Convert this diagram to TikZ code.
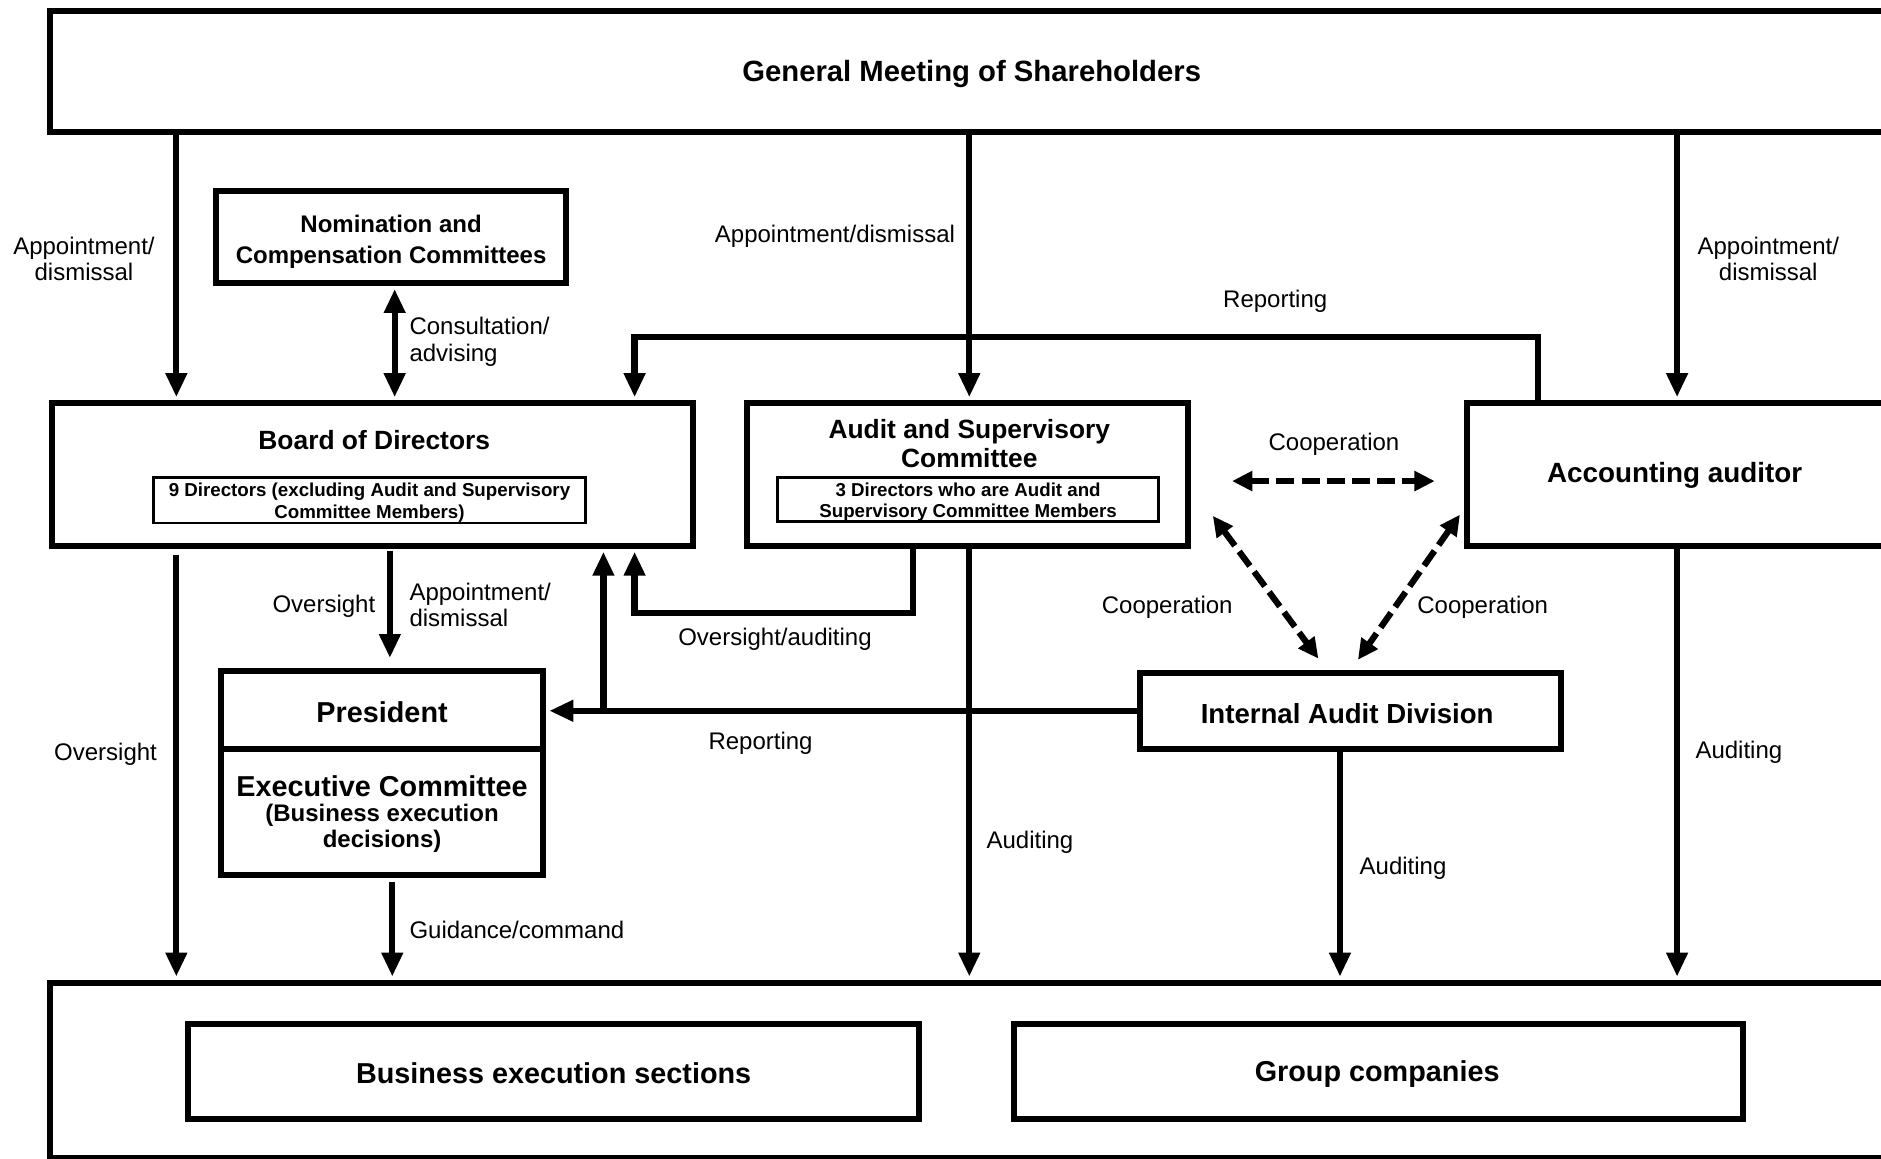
\documentclass[tikz,border=0pt]{standalone}
\usepackage{fontspec}
\setmainfont{Liberation Sans}
\usetikzlibrary{arrows.meta}
\begin{document}
\begin{tikzpicture}[x=0.5pt,y=-0.5pt,
  box/.style={draw, line width=2.5pt, inner sep=0pt},
  inbox/.style={draw, line width=1.2pt, inner sep=0pt},
  txt/.style={inner sep=0pt, align=center, yshift=-1pt},
  intxt/.style={txt, font=\bfseries\fontsize{7.8}{9}\selectfont},
  lab/.style={txt, font=\fontsize{10}{11}\selectfont},
  labl/.style={lab, anchor=west, align=left},
  tip/.tip={Triangle[width=8.5pt,length=10pt]},
  dtip/.tip={Triangle[width=8pt,length=8.5pt]},
  arr/.style={line width=2.6pt, shorten >=1.2pt, -tip},
  darrs/.style={line width=2.6pt, shorten >=1.2pt, shorten <=1.2pt, tip-tip},
  darr/.style={line width=2.6pt, dash pattern=on 7.5pt off 3pt, dtip-dtip}
]
\useasboundingbox (0,0) rectangle (1568,966);
\clip (0,0) rectangle (1568,966);
\fill[white] (0,0) rectangle (1568,966);

% boxes
\node[box, minimum width=768pt, minimum height=50.5pt] (gm) at (810,59.5) {};
\node[txt, font=\bfseries\fontsize{12.2}{14}\selectfont] (gmt) at (810,59.5) {General Meeting of Shareholders};
\node[box, minimum width=768pt, minimum height=73pt] (bot) at (810,892) {};
\node[box, minimum width=146pt, minimum height=38.5pt] (nom) at (326,197.5) {};
\node[txt, font=\bfseries\fontsize{10}{13}\selectfont] (nomt) at (326,199.5) {Nomination and\\Compensation Committees};
\node[box, minimum width=267.5pt, minimum height=59.5pt] (bod) at (310.5,395.5) {};
\node[txt, font=\bfseries\fontsize{11}{13}\selectfont] (bodt) at (312,365) {Board of Directors};
\node[inbox, minimum width=180pt, minimum height=19pt] (bodi) at (308,417) {};
\node[intxt] (bodit) at (308,417) {9 Directors (excluding Audit and Supervisory\\Committee Members)};
\node[box, minimum width=183.5pt, minimum height=59.5pt] (asc) at (806.5,395.5) {};
\node[txt, font=\bfseries\fontsize{11}{12}\selectfont] (asct) at (808,368) {Audit and Supervisory\\Committee};
\node[inbox, minimum width=159pt, minimum height=18.5pt] (asci) at (807,416.5) {};
\node[intxt] (ascit) at (807,416.5) {3 Directors who are Audit and\\Supervisory Committee Members};
\node[box, minimum width=177.5pt, minimum height=59.5pt] (acc) at (1400.5,395.5) {};
\node[txt, font=\bfseries\fontsize{11.6}{13}\selectfont] (acct) at (1396,394) {Accounting auditor};
\node[box, minimum width=134.5pt, minimum height=32.5pt] (pres) at (318.5,591.5) {};
\node[txt, font=\bfseries\fontsize{12}{14}\selectfont] (prest) at (318.5,591.5) {President};
\node[box, minimum width=134.5pt, minimum height=52.5pt] (exec) at (318.5,676.5) {};
\node[txt, font=\bfseries\fontsize{10}{10.5}\selectfont] (exect) at (318.5,676.5) {{\fontsize{12}{14}\selectfont Executive Committee}\\(Business execution\\decisions)};
\node[box, minimum width=175.5pt, minimum height=31.5pt] (iad) at (1125.5,592.5) {};
\node[txt, font=\bfseries\fontsize{11.5}{13}\selectfont] (iadt) at (1123,592.5) {Internal Audit Division};
\node[box, minimum width=304.5pt, minimum height=39.5pt] (bes) at (461.5,893.5) {};
\node[txt, font=\bfseries\fontsize{12}{14}\selectfont] (best) at (461.5,892.5) {Business execution sections};
\node[box, minimum width=304pt, minimum height=39.5pt] (gc) at (1149,893.5) {};
\node[txt, font=\bfseries\fontsize{12}{14}\selectfont] (gct) at (1148,893.5) {Group companies};

% connectors
\draw[arr] (gm.south -| 147,0) -- (bod.north -| 147,0);
\draw[arr] (gm.south -| 808,0) -- (asc.north -| 808,0);
\draw[arr] (gm.south -| 1398,0) -- (acc.north -| 1398,0);
\draw[darrs] (nom.south -| 329,0) -- (bod.north -| 329,0);
\draw[arr] (acc.north -| 1282,0) -- (1282,281) -| (bod.north -| 529,0);

\coordinate (c1) at (1027,401);
\coordinate (c2) at (1196,401);
\coordinate (c3) at (1011,430);
\coordinate (c4) at (1099,549);
\coordinate (c5) at (1217,429);
\coordinate (c6) at (1132,550);
\draw[darr] (c1) -- (c2);
\draw[darr] (c3) -- (c4);
\draw[darr] (c5) -- (c6);

\draw[arr, shorten <=2.5pt] (bod.south -| 147,0) -- (bot.north -| 147,0);
\draw[arr, shorten <=1pt, shorten >=4pt] (bod.south -| 325,0) -- (pres.north -| 325,0);
\coordinate (rj) at (iad.west -| 503,0);
\draw[arr] (iad.west) -- (iad.west -| pres.east);
\draw[arr] (rj) -- (bod.south -| 503,0);
\draw[arr] (asc.south -| 761,0) -- (761,511) -| (bod.south -| 529,0);
\draw[arr] (asc.south -| 808,0) -- (bot.north -| 808,0);
\draw[arr] (iad.south -| 1117,0) -- (bot.north -| 1117,0);
\draw[arr] (acc.south -| 1398,0) -- (bot.north -| 1398,0);
\draw[arr, shorten <=2pt] (exec.south -| 327,0) -- (bot.north -| 327,0);

% labels
\node[lab] (l1) at (70,214) {Appointment/\\dismissal};
\node[lab] (l2) at (696,195) {Appointment/dismissal};
\node[lab] (l3) at (1474,214) {Appointment/\\dismissal};
\node[labl] (l4) at (341,283) {Consultation/\\advising};
\node[lab] (l5) at (1063,249) {Reporting};
\node[lab] (l6) at (1112,368) {Cooperation};
\node[lab] (l7) at (973,504) {Cooperation};
\node[lab] (l8) at (1236,504) {Cooperation};
\node[lab] (l9) at (270,503) {Oversight};
\node[labl] (l10) at (341,502) {Appointment/\\dismissal};
\node[lab] (l11) at (88,627) {Oversight};
\node[lab] (l12) at (634,618) {Reporting};
\node[lab] (l13) at (646,531) {Oversight/auditing};
\node[labl] (l14) at (822,700) {Auditing};
\node[labl] (l15) at (1133,722) {Auditing};
\node[labl] (l16) at (1413,625) {Auditing};
\node[labl] (l17) at (341,773) {Guidance/command};
\end{tikzpicture}
\end{document}
